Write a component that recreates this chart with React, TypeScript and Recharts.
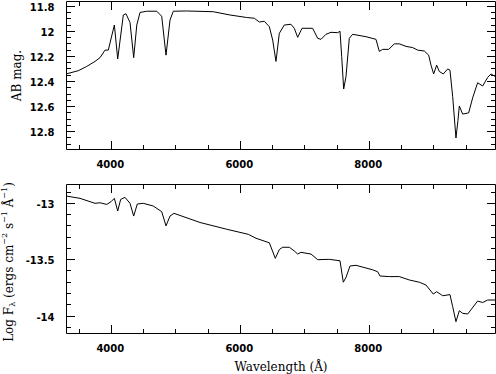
import { LineChart, Line, XAxis, YAxis, Label, ReferenceLine } from 'recharts'

// top panel: AB magnitude vs wavelength
const magWave = [
  3298, 3488, 3619, 3747, 3825, 3902, 3953, 4047, 4099, 4186, 4227, 4290, 4347, 4395, 4445, 4549,
  4704, 4781, 4848, 4910, 4961, 5169, 5581, 5840, 6099, 6217, 6295, 6372, 6450, 6502, 6553, 6605,
  6682, 6786, 6837, 6890, 6957, 7122, 7200, 7251, 7329, 7406, 7510, 7546, 7572, 7603, 7639, 7690,
  7742, 7949, 8104, 8155, 8208, 8301, 8388, 8465, 8569, 8673, 8750, 8853, 8921, 8957, 8998, 9045,
  9085, 9147, 9216, 9251, 9293, 9344, 9375, 9396, 9448, 9541, 9603, 9680, 9758, 9836, 9887, 9954,
]
const magValue = [
  12.34, 12.314, 12.28, 12.24, 12.21, 12.15, 12.15, 11.95, 12.22, 11.87, 11.86, 11.93, 12.21, 11.95, 11.85, 11.84,
  11.84, 11.88, 12.19, 11.91, 11.84, 11.838, 11.844, 11.87, 11.89, 11.896, 11.926, 11.92, 11.963, 12.07, 12.24, 12.016,
  11.95, 11.944, 11.976, 12.048, 11.976, 11.976, 12.056, 12.064, 12.024, 12.008, 12.011, 12.0, 12.2, 12.46, 12.36, 12.056,
  12.024, 12.043, 12.064, 12.16, 12.144, 12.144, 12.1, 12.1, 12.12, 12.13, 12.15, 12.157, 12.19, 12.27, 12.34, 12.27,
  12.32, 12.34, 12.3, 12.31, 12.52, 12.85, 12.71, 12.595, 12.66, 12.65, 12.53, 12.41, 12.436, 12.367, 12.34, 12.36,
]

// bottom panel: log flux vs wavelength
const fluxWave = [
  3298, 3515, 3747, 3825, 3929, 3995, 4047, 4099, 4145, 4212, 4290, 4347, 4403, 4496, 4651, 4781,
  4848, 4910, 4972, 5375, 5789, 6124, 6243, 6450, 6543, 6605, 6657, 6760, 6837, 6890, 6941, 7096,
  7200, 7380, 7546, 7597, 7639, 7701, 7794, 8052, 8130, 8166, 8310, 8465, 8620, 8775, 8879, 8992,
  9045, 9138, 9251, 9293, 9344, 9396, 9448, 9526, 9680, 9758, 9836, 9954,
]
const fluxValue = [
  -12.935, -12.956, -13.0, -12.995, -13.01, -12.986, -12.956, -13.068, -12.965, -12.947, -13.0, -13.113, -13.006, -13.0, -13.024, -13.074,
  -13.2, -13.113, -13.089, -13.17, -13.23, -13.275, -13.31, -13.35, -13.488, -13.41, -13.39, -13.39, -13.423, -13.45, -13.435, -13.45,
  -13.5, -13.497, -13.51, -13.7, -13.657, -13.556, -13.55, -13.59, -13.607, -13.645, -13.65, -13.65, -13.68, -13.7, -13.725, -13.805,
  -13.784, -13.82, -13.81, -13.917, -14.05, -13.953, -13.976, -13.982, -13.867, -13.88, -13.858, -13.858,
]

const waveMajor = [4000, 6000, 8000]
const waveTicks = [3500, 4000, 4500, 5000, 5500, 6000, 6500, 7000, 7500, 8000, 8500, 9000, 9500]
const magMajor = [11.8, 12, 12.2, 12.4, 12.6, 12.8]
const magTicks = [
  11.8, 11.85, 11.9, 11.95, 12, 12.05, 12.1, 12.15, 12.2, 12.25, 12.3, 12.35,
  12.4, 12.45, 12.5, 12.55, 12.6, 12.65, 12.7, 12.75, 12.8, 12.85, 12.9,
]
const fluxMajor = [-13, -13.5, -14]
const fluxTicks = [-12.9, -13, -13.1, -13.2, -13.3, -13.4, -13.5, -13.6, -13.7, -13.8, -13.9, -14, -14.1]

const magData = magWave.map((w, i) => ({ w, v: magValue[i] }))
const fluxData = fluxWave.map((w, i) => ({ w, v: fluxValue[i] }))

const waveDomain = [3305, 9957]
const magDomain = [11.7625, 12.942]
const fluxDomain = [-14.155, -12.833]
const tickFont = { fontFamily: 'DejaVu Sans', fontWeight: 700, fontSize: 10, fill: '#000' }
const titleFont = { fontFamily: 'DejaVu Serif', fontSize: 12, fill: '#000' }
const ink = { stroke: '#000' }

const isMajor = (v: number, majors: number[]) => majors.some((m) => Math.abs(m - v) < 1e-6)

// tick labels only; the marks come from reference lines below
const xLabel = (p: any) => (
  <text x={p.x - 1} y={p.y + 15} textAnchor="middle" dominantBaseline="central" style={tickFont}>
    {p.payload.value}
  </text>
)
const yLabel = (p: any) => (
  <text x={p.x - 12} y={p.y + 1} textAnchor="end" dominantBaseline="central" style={tickFont}>
    {String(p.payload.value)}
  </text>
)

// short inward marks at both ends of a reference line, drawn as 1px filled bars
const xMark = (major: boolean) => (p: any) => {
  const len = major ? 9 : 5
  const x = Math.floor(Number(p.x1))
  const top = Math.min(Number(p.y1), Number(p.y2)) - 0.5
  const bot = Math.max(Number(p.y1), Number(p.y2)) + 0.5
  return (
    <g>
      <rect x={x} y={top} width={1} height={len} fill="#000" />
      <rect x={x} y={bot - len} width={1} height={len} fill="#000" />
    </g>
  )
}
const yMark = (major: boolean) => (p: any) => {
  const len = major ? 9 : 5
  const y = Math.floor(Number(p.y1))
  const l = Math.min(Number(p.x1), Number(p.x2)) - 0.5
  const r = Math.max(Number(p.x1), Number(p.x2)) + 0.5
  return (
    <g>
      <rect x={l} y={y} width={len} height={1} fill="#000" />
      <rect x={r - len} y={y} width={len} height={1} fill="#000" />
    </g>
  )
}

function tickMarks(yTicks: number[], yMajor: number[]) {
  return [
    ...waveTicks.map((w) => (
      <ReferenceLine key={'x' + w} xAxisId="b" yAxisId="l" x={w} ifOverflow="visible" shape={xMark(isMajor(w, waveMajor))} />
    )),
    ...yTicks.map((v) => (
      <ReferenceLine key={'y' + v} xAxisId="b" yAxisId="l" y={v} ifOverflow="visible" shape={yMark(isMajor(v, yMajor))} />
    )),
  ]
}

const axisBase = { type: 'number' as const, allowDataOverflow: true, interval: 0 as const, tickSize: 0, tickMargin: 0, tickLine: false, axisLine: ink }

export default function App() {
  return (
    <div style={{ position: 'relative', width: 496, height: 374, background: '#fff' }}>
      <style>{'body{margin:0}'}</style>

      <div style={{ position: 'absolute', left: 0, top: 0 }}>
        <LineChart width={496} height={184} data={magData} margin={{ top: 0.5, right: 0, bottom: 0, left: 0 }}>
          <XAxis xAxisId="b" dataKey="w" domain={waveDomain} ticks={waveMajor} height={34.5} tick={xLabel} {...axisBase} />
          <XAxis xAxisId="t" orientation="top" domain={waveDomain} height={1} tick={false} {...axisBase} />
          <YAxis yAxisId="l" domain={magDomain} reversed ticks={magMajor} width={66.5} tick={yLabel} {...axisBase}>
            <Label
              content={(props: any) => {
                const vb = props.viewBox
                const cx = vb.x + 17
                const cy = vb.y + vb.height / 2
                return (
                  <text x={cx} y={cy} transform={`rotate(-90, ${cx}, ${cy})`} textAnchor="middle" dominantBaseline="central" style={titleFont}>
                    AB mag.
                  </text>
                )
              }}
            />
          </YAxis>
          <YAxis yAxisId="r" orientation="right" domain={magDomain} reversed width={0.5} tick={false} {...axisBase} />
          {tickMarks(magTicks, magMajor)}
          <Line xAxisId="b" yAxisId="l" type="linear" dataKey="v" stroke="#000" dot={false} isAnimationActive={false} />
        </LineChart>
      </div>

      <div style={{ position: 'absolute', left: 0, top: 180 }}>
        <LineChart width={496} height={194} data={fluxData} margin={{ top: 3.5, right: 0, bottom: 0, left: 0 }}>
          <XAxis xAxisId="b" dataKey="w" domain={waveDomain} ticks={waveMajor} height={40.5} tick={xLabel} {...axisBase}>
            <Label
              content={(props: any) => {
                const vb = props.viewBox
                return (
                  <text x={vb.x + vb.width / 2} y={vb.y + 33} textAnchor="middle" dominantBaseline="central" style={titleFont}>
                    Wavelength (Å)
                  </text>
                )
              }}
            />
          </XAxis>
          <XAxis xAxisId="t" orientation="top" domain={waveDomain} height={1} tick={false} {...axisBase} />
          <YAxis yAxisId="l" domain={fluxDomain} ticks={fluxMajor} width={66.5} tick={yLabel} {...axisBase}>
            <Label
              content={(props: any) => {
                const vb = props.viewBox
                const cx = vb.x + 9
                const cy = vb.y + vb.height / 2 + 3
                return (
                  <text x={cx} y={cy} transform={`rotate(-90, ${cx}, ${cy})`} textAnchor="middle" dominantBaseline="central" style={titleFont}>
                    <tspan>Log F</tspan>
                    <tspan dy={3} fontSize={8}>λ</tspan>
                    <tspan dy={-3}> (ergs cm</tspan>
                    <tspan dy={-5} fontSize={8}>−2</tspan>
                    <tspan dy={5}> s</tspan>
                    <tspan dy={-5} fontSize={8}>−1</tspan>
                    <tspan dy={5}> Å</tspan>
                    <tspan dy={-5} fontSize={8}>−1</tspan>
                    <tspan dy={5}>)</tspan>
                  </text>
                )
              }}
            />
          </YAxis>
          <YAxis yAxisId="r" orientation="right" domain={fluxDomain} width={0.5} tick={false} {...axisBase} />
          {tickMarks(fluxTicks, fluxMajor)}
          <Line xAxisId="b" yAxisId="l" type="linear" dataKey="v" stroke="#000" dot={false} isAnimationActive={false} />
        </LineChart>
      </div>
    </div>
  )
}
